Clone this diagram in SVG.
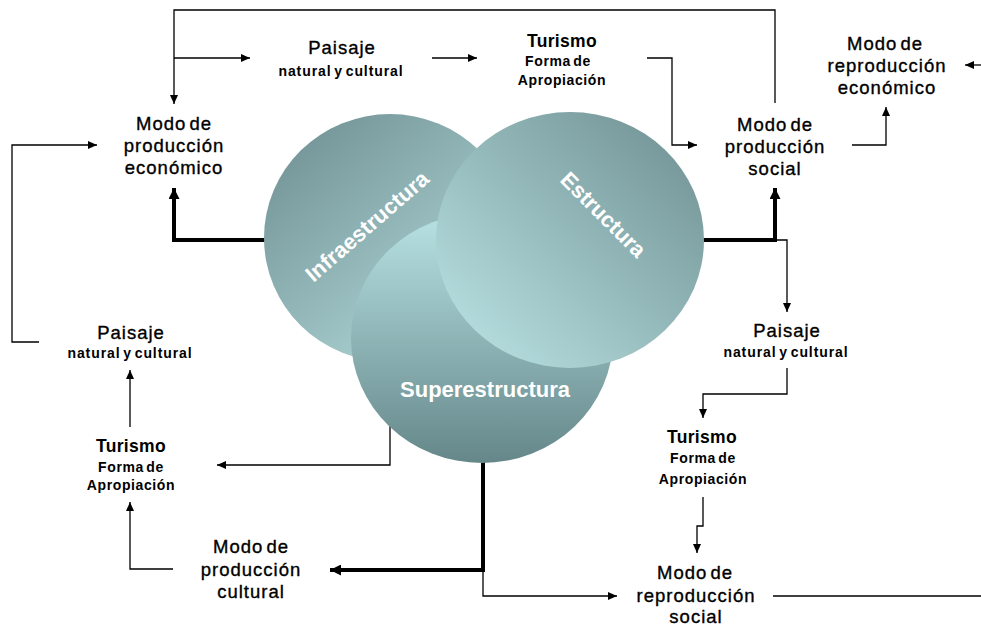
<svg xmlns="http://www.w3.org/2000/svg" width="981" height="627" viewBox="0 0 981 627">
<style>
.t{font-family:"Liberation Sans",Arial,sans-serif;fill:#000;text-anchor:middle}
.b{font-size:18.5px;letter-spacing:1px;word-spacing:-3px;stroke:#000;stroke-width:0.35px}
.h{font-size:17.5px;font-weight:bold;letter-spacing:0.3px}
.s{font-size:14px;font-weight:bold;letter-spacing:0.6px;word-spacing:-2px}
.n{letter-spacing:0.9px}
.c{font-family:"Liberation Sans",Arial,sans-serif;font-weight:bold;fill:#fff;font-size:22px;text-anchor:middle}
.ln{fill:none;stroke:#000;stroke-width:1.3}
.th{fill:none;stroke:#000;stroke-width:4}
</style>
<defs>
<marker id="a" markerUnits="userSpaceOnUse" markerWidth="9" markerHeight="8" refX="9" refY="4" orient="auto"><path d="M0,0 L9,4 L0,8 z" fill="#000"/></marker>
<marker id="A" markerUnits="userSpaceOnUse" markerWidth="11" markerHeight="11" refX="11" refY="5.5" orient="auto"><path d="M0,0 L11,5.5 L0,11 z" fill="#000"/></marker>
<linearGradient id="gi" x1="0.15" y1="0.1" x2="0.85" y2="0.9"><stop offset="0" stop-color="#769799"/><stop offset="1" stop-color="#b2d9db"/></linearGradient>
<linearGradient id="gs" x1="0" y1="0" x2="0" y2="1"><stop offset="0" stop-color="#b8e2e3"/><stop offset="1" stop-color="#65878a"/></linearGradient>
<linearGradient id="ge" x1="0.1" y1="0.9" x2="0.9" y2="0.1"><stop offset="0" stop-color="#b6dedf"/><stop offset="1" stop-color="#759698"/></linearGradient>
</defs>
<g id="connectors">
<path class="ln" d="M775,103 V10 H174 V104" marker-end="url(#a)"/>
<path class="ln" d="M174,58 H250" marker-end="url(#a)"/>
<path class="ln" d="M432,58 H477" marker-end="url(#a)"/>
<path class="ln" d="M647,58 H672 V145 H697" marker-end="url(#a)"/>
<path class="ln" d="M852,145 H886 V107" marker-end="url(#a)"/>
<path class="ln" d="M981,65 H965" marker-end="url(#a)"/>
<path class="th" d="M703,240 H775 V188" marker-end="url(#A)"/>
<path class="ln" d="M775,240 H787 V312" marker-end="url(#a)"/>
<path class="ln" d="M787,368 V394 H703 V418" marker-end="url(#a)"/>
<path class="ln" d="M703,497 V526 H697 V553" marker-end="url(#a)"/>
<path class="th" d="M483,460 V570 H330" marker-end="url(#A)"/>
<path class="ln" d="M483,570 V596 H617" marker-end="url(#a)"/>
<path class="ln" d="M773,596 H981"/>
<path class="ln" d="M390,425 V465 H217" marker-end="url(#a)"/>
<path class="ln" d="M130,427 V370" marker-end="url(#a)"/>
<path class="ln" d="M173,569 H130 V502" marker-end="url(#a)"/>
<path class="ln" d="M39,342 H12 V145 H97" marker-end="url(#a)"/>
<path class="th" d="M266,240 H174 V188" marker-end="url(#A)"/>
</g>
<g id="infraestructura">
<ellipse cx="390" cy="238" rx="126" ry="124" fill="url(#gi)"/>
<text class="c" transform="translate(372,232) rotate(-41)">Infraestructura</text>
</g>
<g id="superestructura">
<ellipse cx="482" cy="338" rx="131" ry="125" fill="url(#gs)"/>
</g>
<g id="estructura">
<ellipse cx="570" cy="240" rx="134" ry="128" fill="url(#ge)"/>
<text class="c" transform="translate(598,220) rotate(45)">Estructura</text>
</g>
<g id="superestructura-label">
<text class="c" x="485" y="397">Superestructura</text>
</g>
<g id="modo-prod-economico">
<text class="t b" x="174" y="130">Modo de</text>
<text class="t b" x="174" y="152">producción</text>
<text class="t b" x="174" y="174">económico</text>
</g>
<g id="paisaje-top">
<text class="t b" x="342" y="54">Paisaje</text>
<text class="t s n" x="341" y="76">natural y cultural</text>
</g>
<g id="turismo-top">
<text class="t h" x="562" y="47">Turismo</text>
<text class="t s" x="558" y="66">Forma de</text>
<text class="t s" x="562" y="85">Apropiación</text>
</g>
<g id="modo-prod-social">
<text class="t b" x="775" y="131">Modo de</text>
<text class="t b" x="775" y="153">producción</text>
<text class="t b" x="775" y="175">social</text>
</g>
<g id="modo-repro-economico">
<text class="t b" x="885" y="50">Modo de</text>
<text class="t b" x="887" y="72">reproducción</text>
<text class="t b" x="887" y="94">económico</text>
</g>
<g id="paisaje-left">
<text class="t b" x="131" y="339">Paisaje</text>
<text class="t s n" x="130" y="358">natural y cultural</text>
</g>
<g id="turismo-left">
<text class="t h" x="131" y="452">Turismo</text>
<text class="t s" x="131" y="472">Forma de</text>
<text class="t s" x="131" y="490">Apropiación</text>
</g>
<g id="modo-prod-cultural">
<text class="t b" x="251" y="553">Modo de</text>
<text class="t b" x="251" y="576">producción</text>
<text class="t b" x="251" y="598">cultural</text>
</g>
<g id="paisaje-right">
<text class="t b" x="787" y="337">Paisaje</text>
<text class="t s n" x="786" y="357">natural y cultural</text>
</g>
<g id="turismo-right">
<text class="t h" x="702" y="443">Turismo</text>
<text class="t s" x="703" y="463">Forma de</text>
<text class="t s" x="703" y="484">Apropiación</text>
</g>
<g id="modo-repro-social">
<text class="t b" x="695" y="579">Modo de</text>
<text class="t b" x="696" y="602">reproducción</text>
<text class="t b" x="696" y="623">social</text>
</g>
</svg>
